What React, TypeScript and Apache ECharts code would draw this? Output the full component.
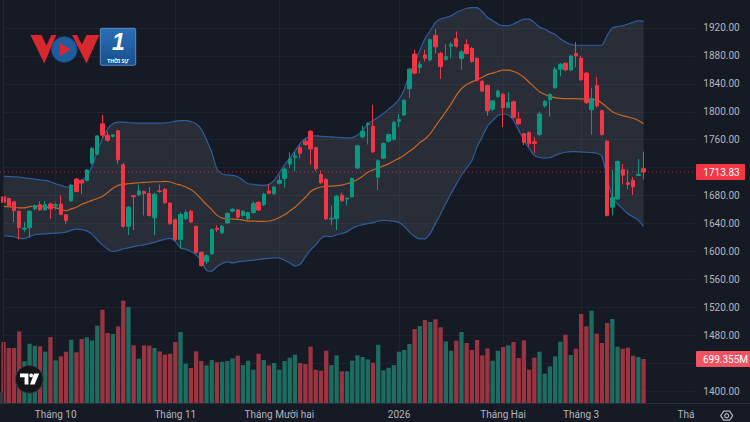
import React, { useEffect, useRef } from "react";
import * as echarts from "echarts";

// ---- data (VN-Index daily, Bollinger 20,2, volume in millions) ----
const opens = [
  1678.3, 1675.9, 1671.2, 1657.6, 1632.0, 1634.2, 1661.0, 1667.0, 1659.5, 1668.0,
  1665.2, 1668.0, 1652.5, 1672.6, 1703.6, 1701.7, 1701.7, 1726.5, 1739.2, 1782.7,
  1766.3, 1764.9, 1772.9, 1724.2, 1636.1, 1680.0, 1681.1, 1685.8, 1682.9, 1648.3,
  1686.7, 1689.0, 1669.3, 1645.5, 1617.3, 1646.9, 1657.6, 1636.1, 1598.6, 1585.5,
  1596.7, 1633.2, 1626.7, 1640.8, 1657.6, 1659.5, 1651.5, 1646.9, 1655.8, 1670.3,
  1667.0, 1686.7, 1682.9, 1697.5, 1704.5, 1725.1, 1734.7, 1748.5, 1757.9, 1772.0,
  1748.5, 1710.1, 1703.1, 1646.4, 1646.9, 1680.6, 1675.0, 1678.3, 1719.5, 1764.0,
  1781.8, 1779.4, 1706.4, 1733.5, 1757.9, 1760.7, 1786.5, 1795.4, 1833.0, 1882.6,
  1863.4, 1881.2, 1874.1, 1909.3, 1883.5, 1875.0, 1893.8, 1904.6, 1876.5, 1896.2,
  1890.5, 1876.5, 1843.7, 1837.6, 1803.9, 1821.7, 1825.0, 1806.2, 1814.2, 1789.8,
  1768.7, 1770.1, 1757.0, 1767.3, 1808.5, 1817.0, 1834.3, 1861.0, 1869.5, 1860.0,
  1883.5, 1876.5, 1855.4, 1802.9, 1837.6, 1801.5, 1757.9, 1663.4, 1675.1, 1717.2,
  1698.5, 1701.8, 1708.8, 1718.6,
];
const closes = [
  1670.3, 1665.6, 1658.6, 1634.2, 1633.5, 1657.6, 1665.6, 1659.5, 1667.0, 1661.0,
  1666.8, 1653.0, 1644.5, 1694.7, 1685.8, 1698.0, 1716.7, 1747.6, 1765.4, 1766.3,
  1759.3, 1766.8, 1731.2, 1636.1, 1663.3, 1678.5, 1686.7, 1682.9, 1651.5, 1682.0,
  1685.8, 1669.8, 1639.8, 1617.3, 1653.0, 1655.8, 1642.2, 1598.6, 1579.9, 1593.9,
  1631.4, 1631.4, 1636.1, 1654.8, 1660.4, 1649.2, 1657.6, 1655.8, 1668.9, 1659.5,
  1682.0, 1683.4, 1692.3, 1701.7, 1718.1, 1732.6, 1736.8, 1740.6, 1753.2, 1746.7,
  1718.5, 1698.4, 1646.9, 1647.4, 1679.2, 1672.6, 1676.4, 1704.5, 1751.3, 1772.0,
  1783.0, 1742.9, 1729.8, 1754.6, 1767.3, 1785.1, 1788.8, 1816.5, 1861.0, 1855.4,
  1868.0, 1876.5, 1903.2, 1892.9, 1864.8, 1878.8, 1896.6, 1893.8, 1885.9, 1883.5,
  1871.8, 1845.1, 1829.6, 1801.5, 1815.6, 1829.6, 1806.2, 1813.2, 1792.2, 1782.8,
  1756.1, 1754.7, 1754.7, 1796.8, 1814.6, 1825.0, 1861.0, 1868.0, 1860.0, 1879.8,
  1879.8, 1846.0, 1813.2, 1818.9, 1808.5, 1767.3, 1651.6, 1677.4, 1728.9, 1709.2,
  1696.1, 1692.4, 1710.2, 1713.83,
];
const lows = [
  1668, 1664, 1642, 1617, 1628, 1619.7, 1659, 1658.6, 1658, 1647,
  1659.5, 1652, 1639.8, 1671, 1685, 1682, 1700, 1724, 1738, 1763,
  1757, 1763, 1725, 1634, 1623.4, 1630.5, 1679, 1651.5, 1650, 1623.4,
  1684, 1668, 1638, 1615, 1604.7, 1645, 1641, 1597, 1578, 1582,
  1595, 1628.1, 1625, 1639, 1656, 1647, 1650, 1645, 1654, 1658,
  1665, 1682, 1681, 1696, 1691.4, 1720, 1714.8, 1733, 1751, 1724.2,
  1714.8, 1697, 1645, 1637.5, 1630.5, 1671, 1665.6, 1677, 1718, 1762,
  1753.2, 1741, 1687.6, 1732, 1756, 1759, 1778, 1794, 1820, 1853,
  1855, 1871.8, 1872, 1883.5, 1847, 1873, 1876.5, 1892, 1860, 1882,
  1870, 1843, 1828, 1794.5, 1801, 1820, 1778, 1805, 1790, 1781,
  1752.3, 1750, 1740.6, 1765, 1806, 1793, 1833, 1850.7, 1858, 1858,
  1863.8, 1844, 1811, 1767.3, 1806, 1766, 1650, 1651.6, 1674, 1696.1,
  1689.1, 1681.1, 1708, 1703.1,
];
const highs = [
  1681, 1677, 1672, 1658, 1642, 1659, 1667, 1671.7, 1672, 1670,
  1669.8, 1680.6, 1653, 1697, 1705, 1703.6, 1718, 1750, 1767, 1795.4,
  1772, 1768, 1774, 1727, 1665, 1680.5, 1696, 1687, 1692.3, 1684,
  1696, 1691, 1670, 1647, 1656, 1659, 1660, 1637, 1600, 1596,
  1633, 1637.5, 1638, 1656, 1662, 1661, 1659, 1657, 1672, 1672,
  1684, 1696, 1694, 1709, 1720, 1742, 1742.9, 1752, 1762, 1774,
  1750, 1716, 1705, 1665.6, 1681, 1684, 1677, 1706, 1753, 1780,
  1785, 1810, 1732, 1756, 1769, 1787, 1796.8, 1818, 1863, 1889,
  1872, 1889, 1905, 1918.6, 1886, 1896.6, 1899.9, 1914.9, 1888, 1903.7,
  1893, 1878, 1845, 1839, 1817, 1832, 1827, 1828.2, 1816, 1800.1,
  1770, 1772, 1764, 1800, 1817, 1826, 1864, 1870, 1871, 1882,
  1899.9, 1880, 1857, 1834.3, 1849.8, 1803, 1759, 1717.2, 1730, 1725.2,
  1717.2, 1706.4, 1732.6, 1742.9,
];
const volumes = [
  969, 874, 874, 1138, 662, 942, 911, 900, 815, 1048,
  677, 741, 815, 1006, 805, 1017, 1043, 995, 1228, 1483,
  1112, 1096, 1218, 1626, 1525, 916, 704, 916, 911, 874,
  820, 768, 783, 969, 1128, 625, 556, 820, 667, 598,
  683, 646, 656, 667, 709, 752, 603, 672, 529, 783,
  683, 598, 635, 529, 667, 720, 768, 635, 619, 895,
  529, 513, 831, 603, 757, 503, 503, 672, 757, 731,
  693, 640, 926, 519, 561, 603, 815, 842, 937, 1175,
  1223, 1318, 1287, 1329, 1202, 979, 831, 990, 1128, 953,
  842, 1001, 757, 868, 672, 831, 889, 916, 969, 715,
  995, 529, 720, 815, 466, 582, 741, 974, 1085, 762,
  863, 1414, 1218, 1467, 1101, 953, 1271, 1335, 895, 863,
  879, 752, 731, 699.355,
];
const bbUpper = [
  1707.8, 1707.3, 1706.8, 1706.4, 1705.4, 1704.5, 1703.6, 1702.6, 1701.7, 1699.8,
  1697.0, 1694.7, 1692.3, 1692.8, 1696.1, 1701.7, 1707.8, 1721.8, 1742.9, 1761.7,
  1775.7, 1782.7, 1785.1, 1785.1, 1784.5, 1784.1, 1783.7, 1783.7, 1783.7, 1783.7,
  1783.7, 1784.1, 1785.0, 1786.5, 1787.4, 1787.4, 1786.0, 1782.7, 1775.0, 1760.0,
  1742.0, 1718.0, 1711.0, 1709.5, 1709.0, 1707.0, 1702.0, 1697.0, 1696.1, 1695.1,
  1694.7, 1696.1, 1701.7, 1712.5, 1724.2, 1733.5, 1743.8, 1754.6, 1761.7, 1764.9,
  1765.4, 1764.9, 1764.5, 1764.0, 1763.5, 1763.1, 1762.6, 1763.1, 1766.3, 1773.4,
  1782.7, 1787.4, 1792.1, 1797.5, 1803.8, 1809.7, 1817.9, 1832.0, 1853.1, 1869.5,
  1888.2, 1904.6, 1916.3, 1928.0, 1932.7, 1935.0, 1937.4, 1942.1, 1945.4, 1948.2,
  1949.1, 1949.1, 1943.5, 1935.0, 1930.4, 1925.7, 1923.3, 1923.3, 1925.7, 1929.4,
  1932.7, 1932.7, 1928.0, 1921.0, 1918.6, 1914.0, 1910.7, 1904.6, 1899.9, 1896.6,
  1895.2, 1895.2, 1895.2, 1895.2, 1895.2, 1895.2, 1909.3, 1920.1, 1921.9, 1923.3,
  1925.7, 1928.0, 1930.4, 1929.4,
];
const bbMiddle = [
  1664.7, 1664.2, 1663.3, 1662.3, 1662.3, 1664.2, 1665.1, 1664.7, 1663.7, 1663.3,
  1662.3, 1660.5, 1658.1, 1660.9, 1663.3, 1667.5, 1670.3, 1673.1, 1675.9, 1678.7,
  1684.3, 1690.4, 1694.7, 1696.1, 1697.0, 1697.9, 1698.4, 1698.9, 1699.3, 1699.8,
  1699.8, 1700.3, 1699.8, 1697.0, 1695.1, 1692.3, 1688.6, 1682.9, 1675.0, 1667.0,
  1660.0, 1652.0, 1647.8, 1646.9, 1646.4, 1645.9, 1645.0, 1643.6, 1643.6, 1643.1,
  1643.1, 1643.6, 1645.5, 1648.7, 1652.5, 1658.1, 1663.3, 1670.3, 1677.3, 1685.8,
  1690.0, 1692.3, 1693.3, 1693.7, 1694.2, 1695.1, 1697.0, 1699.3, 1703.1, 1707.8,
  1713.4, 1716.7, 1719.5, 1722.5, 1725.4, 1729.6, 1733.3, 1737.8, 1743.4, 1748.8,
  1755.9, 1761.0, 1768.7, 1779.5, 1789.8, 1800.1, 1810.9, 1823.5, 1832.9, 1839.0,
  1842.8, 1846.0, 1849.3, 1853.1, 1855.4, 1857.7, 1859.6, 1859.6, 1857.7, 1854.5,
  1849.3, 1842.3, 1835.3, 1828.7, 1825.0, 1821.7, 1820.3, 1819.3, 1818.9, 1818.9,
  1818.9, 1818.4, 1817.9, 1817.5, 1817.0, 1812.3, 1806.2, 1800.1, 1796.8, 1794.5,
  1792.6, 1790.7, 1787.5, 1782.8,
];
const bbLower = [
  1622.5, 1622.1, 1621.1, 1619.2, 1618.3, 1621.6, 1623.9, 1624.9, 1625.3, 1625.8,
  1626.3, 1626.7, 1627.7, 1630.5, 1631.9, 1631.4, 1629.5, 1624.9, 1616.4, 1609.4,
  1603.3, 1600.0, 1601.4, 1603.8, 1605.2, 1607.0, 1608.5, 1609.4, 1611.3, 1613.1,
  1615.5, 1617.8, 1618.8, 1614.1, 1605.0, 1603.3, 1600.0, 1595.3, 1586.0, 1573.0,
  1571.9, 1578.0, 1582.7, 1585.0, 1583.6, 1585.0, 1586.0, 1587.0, 1587.5, 1588.5,
  1589.5, 1590.2, 1590.7, 1590.7, 1587.4, 1583.6, 1578.9, 1581.7, 1592.1, 1602.4,
  1609.4, 1618.8, 1622.0, 1621.1, 1623.9, 1625.8, 1628.1, 1632.8, 1636.6, 1638.4,
  1639.8, 1641.2, 1643.6, 1644.4, 1644.0, 1643.4, 1641.5, 1636.0, 1627.7, 1621.6,
  1618.0, 1618.0, 1625.8, 1639.9, 1653.9, 1668.9, 1683.0, 1696.1, 1709.2, 1719.5,
  1729.8, 1750.0, 1764.0, 1779.5, 1787.5, 1794.5, 1796.8, 1795.4, 1787.5, 1773.4,
  1759.4, 1747.7, 1737.4, 1734.5, 1733.6, 1734.5, 1737.4, 1740.2, 1742.1, 1743.0,
  1743.0, 1742.5, 1742.1, 1741.6, 1740.6, 1735.9, 1705.5, 1677.4, 1668.0, 1661.0,
  1654.0, 1649.3, 1644.6, 1636.1,
];
// month boundaries (category index of first session) and their labels
const monthStarts = [10, 33, 53, 76, 96, 111, 133];
const monthLabels = ["Tháng 10", "Tháng 11", "Tháng Mười hai", "2026", "Tháng Hai", "Tháng 3", "Tháng 4"];
const slotCount = 135; // trading sessions + empty future slots
const priceMin = 1360;
const priceMax = 1960;
const priceStep = 40;
const volumeMax = 2383.5;

const BG = "#161a25";
const GRID = "#1f2330";
const TEXT = "#b2b5be";
const UP = "#089981";
const DOWN = "#f23645";
const FONT = "Roboto, 'Noto Sans', sans-serif";

export default function App() {
  const ref = useRef<HTMLDivElement>(null);

  useEffect(() => {
    document.body.style.margin = "0";
    const chart = echarts.init(ref.current as HTMLDivElement, null, { renderer: "svg" });
    const categories = Array.from({ length: slotCount }, (_, i) => String(i));
    const labelAt = (i: number) => {
      const k = monthStarts.indexOf(i);
      return k >= 0 ? monthLabels[k] : "";
    };
    const isMonth = (i: number) => monthStarts.indexOf(i) >= 0;
    const candleData = opens.map((o, i) => [o, closes[i], lows[i], highs[i]]);
    const bandWidth = bbUpper.map((u, i) => +(u - bbLower[i]).toFixed(2));
    const volData = volumes.map((v, i) => ({
      value: v,
      itemStyle: { color: closes[i] >= opens[i] ? "#1c6d60" : "#9a3440" },
    }));
    const lastClose = closes[closes.length - 1];
    const lastVol = volumes[volumes.length - 1];

    const gridSide = { left: 3.6, right: 49.2 };
    const priceLabel = {
      show: true,
      showMinLabel: false,
      showMaxLabel: false,
      color: TEXT,
      fontSize: 10,
      fontFamily: FONT,
      margin: 2.5,
      formatter: (v: number) => v.toFixed(2),
    };

    chart.setOption({
      animation: false,
      backgroundColor: BG,
      textStyle: { fontFamily: FONT },
      grid: [
        { ...gridSide, top: -7.76, bottom: 2.86 },
        { ...gridSide, top: 253, bottom: 19 },
      ],
      xAxis: [
        {
          type: "category",
          gridIndex: 0,
          data: categories,
          boundaryGap: false,
          axisLine: { show: false },
          axisTick: { show: false },
          axisLabel: { show: false },
          splitLine: { show: true, interval: (i: number) => isMonth(i), lineStyle: { color: GRID, width: 1 } },
          z: 0,
        },
        {
          type: "category",
          gridIndex: 1,
          data: categories,
          boundaryGap: false,
          axisLine: { show: false },
          axisTick: { show: false },
          splitLine: { show: false },
          axisLabel: {
            show: true,
            interval: (i: number) => isMonth(i),
            formatter: (_v: string, i: number) => labelAt(i),
            color: TEXT,
            fontSize: 10,
            fontFamily: FONT,
            margin: 6,
          },
          z: 10,
        },
      ],
      yAxis: [
        {
          type: "value",
          gridIndex: 0,
          position: "left",
          min: priceMin,
          max: priceMax,
          interval: priceStep,
          axisLine: { show: false },
          axisTick: { show: false },
          axisLabel: { show: false },
          splitLine: { show: true, showMinLine: false, showMaxLine: false, lineStyle: { color: GRID, width: 1 } },
          z: 0,
        },
        {
          type: "value",
          gridIndex: 0,
          position: "right",
          min: priceMin,
          max: priceMax,
          interval: priceStep,
          axisLine: { show: false },
          axisTick: { show: false },
          splitLine: { show: false },
          axisLabel: priceLabel,
          z: 20,
        },
        {
          type: "value",
          gridIndex: 1,
          min: 0,
          max: volumeMax,
          show: false,
          splitLine: { show: false },
        },
      ],
      series: [
        {
          type: "line",
          name: "lower",
          xAxisIndex: 0,
          yAxisIndex: 0,
          data: bbLower,
          stack: "bb",
          symbol: "none",
          smooth: 0.2,
          clip: false,
          silent: true,
          lineStyle: { color: "#2b5e9c", width: 1.2 },
          z: 2,
        },
        {
          type: "line",
          name: "upper",
          xAxisIndex: 0,
          yAxisIndex: 0,
          data: bandWidth,
          stack: "bb",
          symbol: "none",
          smooth: 0.2,
          clip: false,
          silent: true,
          lineStyle: { color: "#2b5e9c", width: 1.2 },
          areaStyle: { color: "rgba(120,123,134,0.2)", opacity: 1 },
          z: 2,
        },
        {
          type: "line",
          name: "basis",
          xAxisIndex: 0,
          yAxisIndex: 0,
          data: bbMiddle,
          symbol: "none",
          smooth: 0.2,
          clip: false,
          silent: true,
          lineStyle: { color: "#c9671f", width: 1.2 },
          z: 2,
        },
        {
          type: "candlestick",
          xAxisIndex: 0,
          yAxisIndex: 0,
          data: candleData,
          barWidth: 3.9,
          clip: false,
          silent: true,
          itemStyle: { color: UP, color0: DOWN, borderColor: UP, borderColor0: DOWN, borderWidth: 1 },
          z: 3,
        },
        {
          type: "bar",
          xAxisIndex: 1,
          yAxisIndex: 2,
          data: volData,
          barWidth: 4.3,
          clip: false,
          silent: true,
          z: 2,
        },
      ],
    });

    const yPrice = chart.convertToPixel({ yAxisIndex: 1 }, lastClose) as number;
    const yVol = chart.convertToPixel({ yAxisIndex: 2 }, lastVol) as number;
    // price-scale value sitting behind the volume tag: labels under the tags are hidden
    const volOnPrice = chart.convertFromPixel({ yAxisIndex: 1 }, yVol) as number;
    const covered = (v: number) => Math.abs(v - lastClose) < 16 || Math.abs(v - volOnPrice) < 16;

    const hex: number[][] = [];
    for (let k = 0; k < 6; k++) {
      const a = (Math.PI / 3) * k;
      hex.push([726.7 + 6 * Math.cos(a), 415.7 + 5.2 * Math.sin(a)]);
    }

    const elements: any[] = [
      // bottom time-axis strip
      { type: "rect", z: 5, silent: true, shape: { x: 0, y: 403.5, width: 750, height: 19 }, style: { fill: BG } },
      // price scale strip
      { type: "rect", z: 15, silent: true, shape: { x: 694.5, y: 0, width: 56, height: 422 }, style: { fill: BG } },
      { type: "line", z: 16, silent: true, shape: { x1: 0, y1: 403.5, x2: 750, y2: 403.5 }, style: { stroke: "#2a2e39", lineWidth: 1 } },
      { type: "line", z: 16, silent: true, shape: { x1: 3.5, y1: 0, x2: 3.5, y2: 403 }, style: { stroke: "#222632", lineWidth: 1 } },
      { type: "rect", z: 16, silent: true, shape: { x: 0, y: 392, width: 3, height: 11 }, style: { fill: "#363a45" } },
      // last price dotted line
      { type: "line", z: 1, silent: true, shape: { x1: 0, y1: yPrice, x2: 694, y2: yPrice }, style: { stroke: "rgba(242,54,69,0.75)", lineWidth: 1, lineDash: [1, 3] } },
      // price tag
      { type: "rect", z: 30, silent: true, shape: { x: 696, y: yPrice - 8, width: 49, height: 16, r: 1 }, style: { fill: DOWN } },
      { type: "text", z: 31, silent: true, style: { x: 703.3, y: yPrice + 0.5, text: lastClose.toFixed(2), fill: "#ffffff", font: `10px ${FONT}`, textAlign: "left", textVerticalAlign: "middle" } },
      // volume tag
      { type: "rect", z: 30, silent: true, shape: { x: 696, y: yVol - 8, width: 56, height: 16, r: 1 }, style: { fill: "#ef5361" } },
      { type: "text", z: 31, silent: true, style: { x: 703, y: yVol + 0.5, text: `${lastVol.toFixed(3)}M`, fill: "#ffffff", font: `10px ${FONT}`, textAlign: "left", textVerticalAlign: "middle" } },
      // settings icon
      { type: "polygon", z: 30, silent: true, shape: { points: hex }, style: { fill: "none", stroke: TEXT, lineWidth: 1.2 } },
      { type: "circle", z: 30, silent: true, shape: { cx: 726.7, cy: 415.7, r: 2 }, style: { fill: "none", stroke: TEXT, lineWidth: 1.2 } },
      // TradingView badge
      { type: "circle", z: 30, silent: true, shape: { cx: 29.3, cy: 379.3, r: 14 }, style: { fill: "#141519", stroke: "#3b3e48", lineWidth: 1 } },
      { type: "polygon", z: 31, silent: true, shape: { points: [[20, 373.4], [28.4, 373.4], [28.4, 384.4], [24.6, 384.4], [24.6, 377.2], [20, 377.2]] }, style: { fill: "#ffffff" } },
      { type: "circle", z: 31, silent: true, shape: { cx: 31.2, cy: 375.4, r: 1.9 }, style: { fill: "#ffffff" } },
      { type: "polygon", z: 31, silent: true, shape: { points: [[34, 373.4], [39.2, 373.4], [34.6, 384.4], [30, 384.4]] }, style: { fill: "#ffffff" } },
      // VOV1 logo
      { type: "polygon", z: 30, silent: true, shape: { points: [[30.5, 35], [41.5, 35], [46.5, 45.5], [51.3, 35], [56.3, 35], [44.3, 63.5]] }, style: { fill: "#d8272d" } },
      { type: "polygon", z: 30, silent: true, shape: { points: [[72, 35], [77, 35], [81.8, 44.5], [86.5, 35], [99.3, 35], [86.5, 63.5]] }, style: { fill: "#d8272d" } },
      { type: "circle", z: 31, silent: true, shape: { cx: 64.3, cy: 49.5, r: 12.8 }, style: { fill: "#1f5c9e", stroke: "#174a82", lineWidth: 0.8 } },
      { type: "polygon", z: 32, silent: true, shape: { points: [[59.8, 43], [59.8, 56], [70.8, 49.5]] }, style: { fill: "#d8272d" } },
      {
        type: "rect", z: 30, silent: true,
        shape: { x: 100.3, y: 28.3, width: 35.4, height: 37, r: 1.5 },
        style: {
          fill: new echarts.graphic.LinearGradient(0, 0, 0, 1, [
            { offset: 0, color: "#2b6fb6" },
            { offset: 1, color: "#17508f" },
          ]),
          stroke: "#6d9bd0",
          lineWidth: 0.8,
        },
      },
      { type: "text", z: 31, silent: true, style: { x: 118.5, y: 42.3, text: "1", fill: "#ffffff", font: "italic bold 23px 'Liberation Sans', sans-serif", textAlign: "center", textVerticalAlign: "middle" } },
      { type: "text", z: 31, silent: true, style: { x: 118, y: 60.6, text: "THỜI SỰ", fill: "#ffffff", font: "bold 5px 'Noto Sans', sans-serif", textAlign: "center", textVerticalAlign: "middle" } },
    ];

    chart.setOption({
      yAxis: [
        {},
        { axisLabel: { ...priceLabel, formatter: (v: number) => (covered(v) ? "" : v.toFixed(2)) } },
        {},
      ],
      graphic: { elements },
    });

    return () => chart.dispose();
  }, []);

  return <div ref={ref} style={{ width: 750, height: 422, background: BG }} />;
}
